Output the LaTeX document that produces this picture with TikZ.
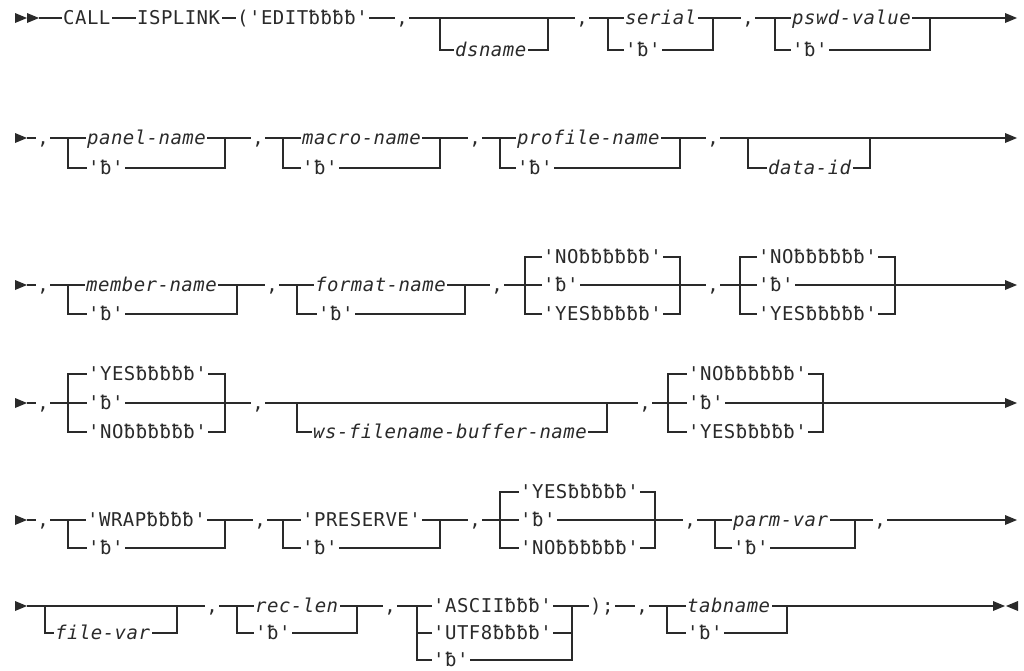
\documentclass[tikz,border=0pt]{standalone}
\usepackage{fontspec}
\setmonofont[LetterSpace=2.5]{DejaVu Sans Mono}
\definecolor{ink}{HTML}{2A2A2A}
\tikzset{
  tx/.style={font=\ttfamily\fontsize{19}{19}\selectfont, inner xsep=1.5pt, inner ysep=0pt,
     text height=14pt, text depth=3pt, fill=white, anchor=base west, text=ink},
  it/.style={tx, font=\ttfamily\itshape\fontsize{19}{19}\selectfont},
  ln/.style={draw=ink, line width=1.2pt},
}
\newcommand\Tx[4]{\node[tx] (#1) at ({#2-1.5},{#3+6}) {#4};}
\newcommand\Ti[4]{\node[it] (#1) at ({#2-1.5},{#3+6}) {#4};}
\newcommand\Cm[3]{\node[tx,anchor=base] (#1) at (#2,{#3+6}) {,};}
\newcommand\Rect[4]{\draw[ln] (#1,#3) rectangle (#2,#4);}
\newcommand\Mid[3]{\draw[ln] (#1,#3) -- (#2,#3);}
\newcommand\RArr[2]{\fill[ink] (#1,{#2-5}) -- ({#1+12},#2) -- (#1,{#2+5}) -- cycle;}
\newcommand\LArr[2]{\fill[ink] ({#1+12},{#2-5}) -- (#1,#2) -- ({#1+12},{#2+5}) -- cycle;}
\begin{document}
\begin{tikzpicture}[x=1pt,y=-1pt]
\useasboundingbox[fill=white] (0,0) rectangle (1024,670);
% ---------------- Row 1
\RArr{15}{18}\RArr{27}{18}
\draw[ln] (39,18) -- (1005,18);
\RArr{1005}{18}
\Rect{440}{548}{18}{50}
\Rect{608}{713}{18}{50}
\Rect{775}{930}{18}{50}
\Tx{call}{63}{18}{CALL}
\Tx{isplink}{137}{18}{ISPLINK}
\Tx{edit}{237}{18}{('EDITƀƀƀƀ'}
\Cm{c11}{402}{18}
\Ti{dsname}{455}{50}{dsname}
\Cm{c12}{582}{18}
\Ti{serial}{625}{18}{serial}
\Tx{b11}{625}{50}{'ƀ'}
\Cm{c13}{748}{18}
\Ti{pswd}{792}{18}{pswd-value}
\Tx{b12}{792}{50}{'ƀ'}
% ---------------- Row 2
\RArr{15}{138}
\draw[ln] (27,138) -- (1005,138);
\RArr{1005}{138}
\Rect{68}{225}{138}{168}
\Rect{283}{440}{138}{168}
\Rect{500}{680}{138}{168}
\Rect{748}{870}{138}{168}
\Cm{c21}{43}{138}
\Ti{panel}{87}{138}{panel-name}
\Tx{b21}{88}{168}{'ƀ'}
\Cm{c22}{258}{138}
\Ti{macro}{302}{138}{macro-name}
\Tx{b22}{302}{168}{'ƀ'}
\Cm{c23}{475}{138}
\Ti{profile}{517}{138}{profile-name}
\Tx{b23}{517}{168}{'ƀ'}
\Cm{c24}{713}{138}
\Ti{dataid}{768}{168}{data-id}
% ---------------- Row 3
\RArr{15}{285}
\draw[ln] (27,285) -- (1005,285);
\RArr{1005}{285}
\Rect{68}{237}{285}{314}
\Rect{297}{465}{285}{314}
\Rect{525}{680}{257}{314}
\Rect{740}{895}{257}{314}
\Cm{c31}{43}{285}
\Ti{member}{86}{285}{member-name}
\Tx{b31}{88}{314}{'ƀ'}
\Cm{c32}{272}{285}
\Ti{format}{315}{285}{format-name}
\Tx{b32}{318}{314}{'ƀ'}
\Cm{c33}{497}{285}
\Tx{no31}{543}{257}{'NOƀƀƀƀƀƀ'}
\Tx{b33}{543}{285}{'ƀ'}
\Tx{yes31}{543}{314}{'YESƀƀƀƀƀ'}
\Cm{c34}{713}{285}
\Tx{no32}{758}{257}{'NOƀƀƀƀƀƀ'}
\Tx{b34}{758}{285}{'ƀ'}
\Tx{yes32}{758}{314}{'YESƀƀƀƀƀ'}
% ---------------- Row 4
\RArr{15}{403}
\draw[ln] (27,403) -- (1005,403);
\RArr{1005}{403}
\Rect{68}{225}{374}{432}
\Rect{297}{607}{403}{432}
\Rect{668}{823}{374}{432}
\Cm{c41}{43}{403}
\Tx{yes41}{88}{374}{'YESƀƀƀƀƀ'}
\Tx{b41}{88}{403}{'ƀ'}
\Tx{no41}{88}{432}{'NOƀƀƀƀƀƀ'}
\Cm{c42}{258}{403}
\Ti{wsfile}{313}{432}{ws-filename-buffer-name}
\Cm{c43}{645}{403}
\Tx{no42}{688}{374}{'NOƀƀƀƀƀƀ'}
\Tx{b42}{688}{403}{'ƀ'}
\Tx{yes42}{688}{432}{'YESƀƀƀƀƀ'}
% ---------------- Row 5
\RArr{15}{520}
\draw[ln] (27,520) -- (1005,520);
\RArr{1005}{520}
\Rect{68}{225}{520}{548}
\Rect{283}{440}{520}{548}
\Rect{500}{655}{492}{548}
\Rect{715}{855}{520}{548}
\Cm{c51}{43}{520}
\Tx{wrap}{87}{520}{'WRAPƀƀƀƀ'}
\Tx{b51}{88}{548}{'ƀ'}
\Cm{c52}{260}{520}
\Tx{preserve}{302}{520}{'PRESERVE'}
\Tx{b52}{302}{548}{'ƀ'}
\Cm{c53}{475}{520}
\Tx{yes51}{520}{492}{'YESƀƀƀƀƀ'}
\Tx{b53}{520}{520}{'ƀ'}
\Tx{no51}{520}{548}{'NOƀƀƀƀƀƀ'}
\Cm{c54}{690}{520}
\Ti{parmvar}{733}{520}{parm-var}
\Tx{b54}{733}{548}{'ƀ'}
\Cm{c55}{880}{520}
% ---------------- Row 6
\RArr{15}{606}
\draw[ln] (27,606) -- (993,606);
\RArr{993}{606}\LArr{1006}{606}
\Rect{45}{177}{606}{633}
\Rect{237}{357}{606}{633}
\Rect{417}{572}{606}{660}
\Mid{417}{572}{633}
\Rect{667}{787}{606}{633}
\Ti{filevar}{55}{633}{file-var}
\Cm{c61}{212}{606}
\Ti{reclen}{255}{606}{rec-len}
\Tx{b61}{255}{633}{'ƀ'}
\Cm{c62}{390}{606}
\Tx{ascii}{433}{606}{'ASCIIƀƀƀ'}
\Tx{utf}{433}{633}{'UTF8ƀƀƀƀ'}
\Tx{b62}{433}{660}{'ƀ'}
\Tx{close}{590}{606}{);}
\Cm{c63}{642}{606}
\Ti{tabname}{687}{606}{tabname}
\Tx{b63}{687}{633}{'ƀ'}
\end{tikzpicture}
\end{document}
